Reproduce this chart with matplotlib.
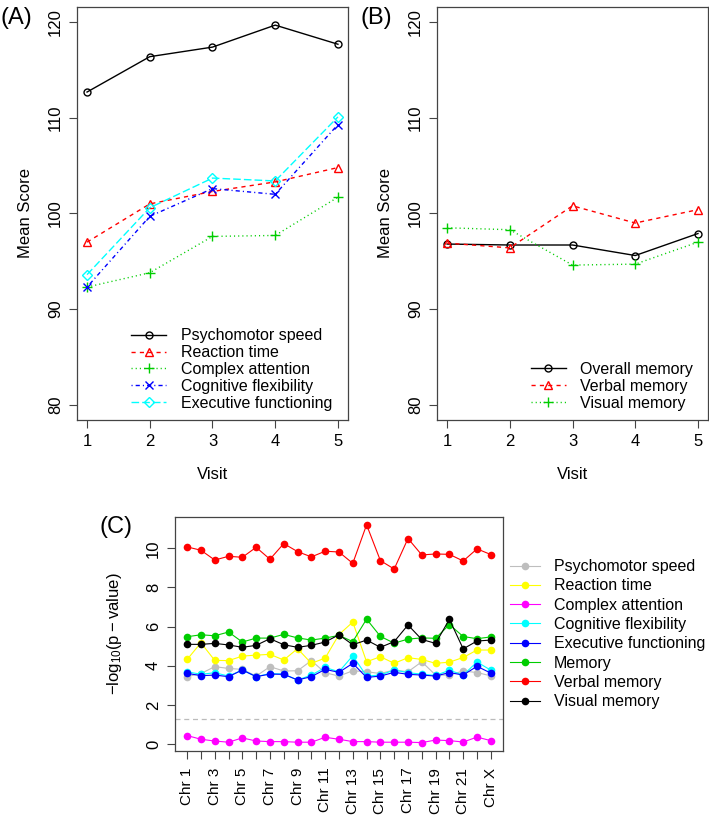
import matplotlib
matplotlib.use("Agg")
import matplotlib.pyplot as plt

plt.rcParams['font.family'] = ['Liberation Sans', 'DejaVu Sans']
plt.rcParams['mathtext.default'] = 'regular'

# ---- data -------------------------------------------------------------
visits = [1, 2, 3, 4, 5]

psychomotor_speed = [112.7, 116.4, 117.4, 119.7, 117.7]
reaction_time = [97.0, 101.0, 102.3, 103.3, 104.8]
complex_attention = [92.3, 93.8, 97.6, 97.7, 101.7]
cognitive_flex = [92.3, 99.7, 102.6, 102.0, 109.3]
executive_func = [93.6, 100.6, 103.7, 103.4, 110.1]

overall_memory = [96.8, 96.7, 96.7, 95.6, 97.9]
verbal_memory = [96.9, 96.4, 100.8, 99.0, 100.4]
visual_memory = [98.5, 98.3, 94.6, 94.7, 97.0]

chr_labels = ["Chr %d" % i for i in range(1, 23)] + ["Chr X"]

p_psychomotor = [3.44, 3.60, 3.95, 3.86, 3.81, 3.47, 3.95, 3.73, 3.74, 4.26, 3.64, 3.47,
                 3.74, 3.69, 3.60, 3.78, 3.69, 4.20, 3.52, 3.52, 3.73, 3.65, 3.48]
p_reaction = [4.32, 5.17, 4.27, 4.26, 4.49, 4.54, 4.58, 4.29, 4.87, 4.12, 4.39, 5.59,
              6.23, 4.20, 4.46, 4.12, 4.41, 4.32, 4.12, 4.18, 4.42, 4.80, 4.80]
p_complex = [0.43, 0.24, 0.15, 0.09, 0.31, 0.15, 0.12, 0.12, 0.09, 0.09, 0.34, 0.24,
             0.12, 0.12, 0.09, 0.09, 0.09, 0.07, 0.20, 0.17, 0.10, 0.35, 0.17]
p_cogflex = [3.69, 3.56, 3.64, 3.47, 3.78, 3.44, 3.60, 3.57, 3.27, 3.52, 3.91, 3.69,
             4.51, 3.47, 3.52, 3.78, 3.64, 3.57, 3.50, 3.77, 3.52, 4.19, 3.77]
p_execfunc = [3.61, 3.49, 3.52, 3.44, 3.78, 3.44, 3.57, 3.56, 3.27, 3.44, 3.81, 3.66,
              4.12, 3.40, 3.47, 3.66, 3.56, 3.52, 3.47, 3.65, 3.52, 3.97, 3.62]
p_memory = [5.48, 5.58, 5.53, 5.72, 5.21, 5.41, 5.41, 5.60, 5.42, 5.31, 5.41, 5.55,
            5.23, 6.38, 5.50, 5.15, 5.36, 5.42, 5.40, 6.10, 5.49, 5.38, 5.47]
p_verbal = [10.07, 9.90, 9.40, 9.59, 9.54, 10.05, 9.44, 10.24, 9.83, 9.56, 9.85, 9.81,
            9.23, 11.20, 9.37, 8.94, 10.50, 9.66, 9.71, 9.69, 9.35, 9.97, 9.68]
p_visual = [5.09, 5.09, 5.14, 5.06, 4.94, 5.04, 5.38, 5.07, 4.94, 5.04, 5.21, 5.58,
            5.07, 5.31, 4.94, 5.23, 6.08, 5.34, 5.14, 6.37, 4.86, 5.26, 5.31]

GREEN = "#00CD00"
FS = 12
LFS = 11.5

fig = plt.figure(figsize=(7.09, 8.18), dpi=100)


def style_axes(ax, size=FS):
    for s in ax.spines.values():
        s.set_color("#444444")
        s.set_linewidth(0.9)
    ax.tick_params(length=6, width=0.8, color="#444444", labelsize=size, pad=4)
    for lbl in ax.get_yticklabels():
        lbl.set_rotation(90)
        lbl.set_va("center")


def score_panel(ax, series, tag):
    for vals, name, col, ls, mk, ms in series:
        ax.plot(visits, vals, color=col, linestyle=ls, marker=mk, lw=1,
                markersize=ms, markerfacecolor="none", markeredgecolor=col,
                markeredgewidth=1, label=name)
    ax.set_xlim(0.84, 5.16)
    ax.set_ylim(78.4, 121.6)
    ax.set_xticks(visits)
    ax.set_yticks([80, 90, 100, 110, 120])
    ax.set_xlabel("Visit", fontsize=FS, labelpad=13)
    ax.set_ylabel("Mean Score", fontsize=FS, labelpad=11)
    style_axes(ax)
    fig.text(ax.get_position().x0 - 0.108, 0.992, tag, fontsize=17, va="top", ha="left")


# ---- panel A ----------------------------------------------------------
axA = fig.add_axes([0.1086, 0.4866, 0.3822, 0.5049])
seriesA = [
    (psychomotor_speed, "Psychomotor speed", "black", "-", "o", 5),
    (reaction_time, "Reaction time", "red", (0, (3, 3)), "^", 6),
    (complex_attention, "Complex attention", GREEN, (0, (0.8, 2.2)), "+", 7),
    (cognitive_flex, "Cognitive flexibility", "blue", (0, (0.8, 2.2, 3, 2.2)), "x", 5.5),
    (executive_func, "Executive functioning", "cyan", (0, (5.5, 2.2)), "D", 5),
]
score_panel(axA, seriesA, "(A)")
axA.legend(loc="lower left", bbox_to_anchor=(0.2, 0.022), frameon=False,
           fontsize=LFS, handlelength=2.2, handletextpad=0.9, labelspacing=0.12,
           borderpad=0, borderaxespad=0)

# ---- panel B ----------------------------------------------------------
axB = fig.add_axes([0.6164, 0.4866, 0.3822, 0.5049])
seriesB = [
    (overall_memory, "Overall memory", "black", "-", "o", 5),
    (verbal_memory, "Verbal memory", "red", (0, (3, 3)), "^", 6),
    (visual_memory, "Visual memory", GREEN, (0, (0.8, 2.2)), "+", 7),
]
score_panel(axB, seriesB, "(B)")
axB.legend(loc="lower left", bbox_to_anchor=(0.345, 0.022), frameon=False,
           fontsize=LFS, handlelength=2.2, handletextpad=0.9, labelspacing=0.12,
           borderpad=0, borderaxespad=0)

# ---- panel C ----------------------------------------------------------
axC = fig.add_axes([0.2468, 0.0819, 0.4626, 0.2861])
chr_pos = list(range(1, len(chr_labels) + 1))
seriesC = [
    (p_psychomotor, "Psychomotor speed", "#BEBEBE"),
    (p_reaction, "Reaction time", "#FFFF00"),
    (p_complex, "Complex attention", "#FF00FF"),
    (p_cogflex, "Cognitive flexibility", "#00FFFF"),
    (p_execfunc, "Executive functioning", "#0000FF"),
    (p_memory, "Memory", GREEN),
    (p_verbal, "Verbal memory", "#FF0000"),
    (p_visual, "Visual memory", "black"),
]
for vals, name, col in seriesC:
    axC.plot(chr_pos, vals, color=col, lw=0.8, marker="o", markersize=5.5,
             markeredgewidth=0, label=name)
axC.axhline(1.3, color="#BBBBBB", lw=0.9, linestyle=(0, (4, 3)))
axC.set_xlim(0.12, 23.88)
axC.set_ylim(-0.36, 11.6)
axC.set_xticks(chr_pos)
axC.set_xticklabels([lab if i % 2 == 0 else "" for i, lab in enumerate(chr_labels)],
                    rotation=90)
axC.set_yticks([0, 2, 4, 6, 8, 10])
axC.set_ylabel(r"$\mathregular{-log_{10}(p-value)}$", fontsize=FS, labelpad=16)
style_axes(axC, size=11)
axC.tick_params(axis="y", labelsize=FS)
axC.tick_params(axis="x", pad=6)
axC.legend(loc="upper left", bbox_to_anchor=(1.02, 0.82), frameon=False,
           fontsize=LFS, handlelength=1.9, handletextpad=0.9, labelspacing=0.27,
           borderpad=0, borderaxespad=0)
fig.text(0.141, 0.356, "(C)", fontsize=17, va="center", ha="left")

fig.savefig("out.png", dpi=100)
